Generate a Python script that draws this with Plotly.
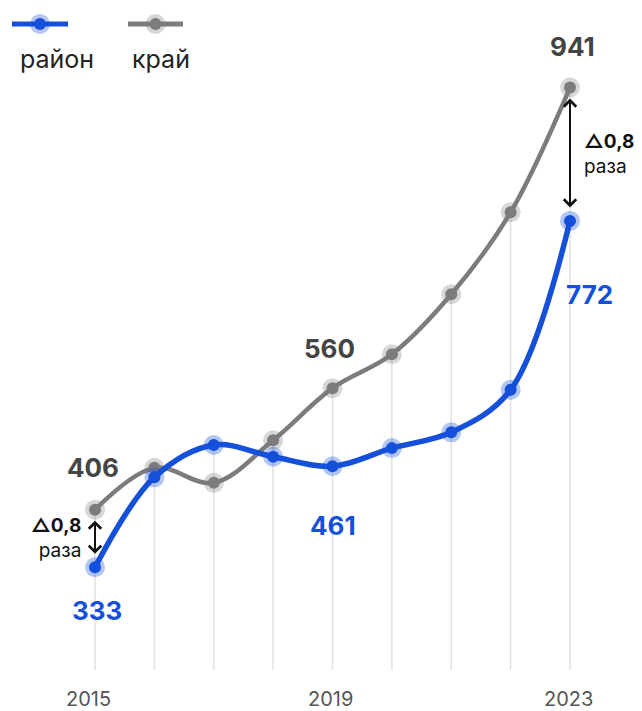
import plotly.graph_objects as go

years = [2015, 2016, 2017, 2018, 2019, 2020, 2021, 2022, 2023]
rayon = [333, 447, 488, 473, 461, 484, 504, 558, 772]
krai = [406, 459, 440, 494, 560, 603, 679, 783, 941]
tick_years = [2015, 2019, 2023]
tick_labels = ["2015", "2019", "2023"]
legend_names = ["район", "край"]
delta_text = "<b>△0,8</b><br>раза"

BLUE = "#1550db"
BLUE_HALO = "rgba(21,80,219,0.32)"
GRAY = "#7c7c7c"
GRAY_HALO = "rgba(124,124,124,0.3)"
FONT = "Inter, Open Sans, sans-serif"

# page offset compensation (page body margin)
OX, OY = 8, 6
W, H = 642 - OX, 711 - OY
MB = H - (668 - OY)
PX_PER_YEAR = 59.375
PX_PER_UNIT = 0.789
X_MIN = 2015 - (95 - OX) / PX_PER_YEAR
X_MAX = X_MIN + W / PX_PER_YEAR
Y_MIN = (828 - 668) / PX_PER_UNIT
Y_MAX = (828 - OY) / PX_PER_UNIT

fig = go.Figure()

for vals, col, halo, w in [(krai, GRAY, GRAY_HALO, 4.5), (rayon, BLUE, BLUE_HALO, 5.5)]:
    fig.add_trace(go.Scatter(x=years, y=vals, mode="lines",
                             line=dict(color=col, width=w, shape="spline", smoothing=1.0),
                             hoverinfo="skip"))
    fig.add_trace(go.Scatter(x=years, y=vals, mode="markers",
                             marker=dict(size=20, color=halo), hoverinfo="skip"))
    fig.add_trace(go.Scatter(x=years, y=vals, mode="markers",
                             marker=dict(size=12, color=col)))

shapes = []
for x, a, b in zip(years, rayon, krai):
    shapes.append(dict(type="line", xref="x", yref="y", x0=x, x1=x, y0=Y_MIN, y1=max(a, b),
                       line=dict(color="#e2e2e2", width=1.5), layer="below"))

# custom legend (positions given in window pixels)
def px(xp):
    return (xp - OX) / W
def py(yp):
    return (H - MB - (yp - OY)) / (H - MB)

annotations = []
for name, col, halo, x0, x1, tx in [(legend_names[0], BLUE, BLUE_HALO, 12, 68, 57),
                                     (legend_names[1], GRAY, GRAY_HALO, 128, 183, 161)]:
    cx = (x0 + x1) / 2
    shapes.append(dict(type="line", xref="paper", yref="paper", x0=px(x0), x1=px(x1),
                       y0=py(22), y1=py(22), line=dict(color=col, width=5)))
    shapes.append(dict(type="circle", xref="paper", yref="paper", xsizemode="pixel", ysizemode="pixel",
                       xanchor=px(cx), yanchor=py(22), x0=-10, x1=10, y0=-10, y1=10,
                       fillcolor=halo, line=dict(width=0)))
    shapes.append(dict(type="circle", xref="paper", yref="paper", xsizemode="pixel", ysizemode="pixel",
                       xanchor=px(cx), yanchor=py(22), x0=-6, x1=6, y0=-6, y1=6,
                       fillcolor=col, line=dict(width=0)))
    annotations.append(dict(xref="paper", yref="paper", x=px(tx), y=py(57), text=name,
                            showarrow=False, font=dict(family=FONT, size=25, color="#222"),
                            xanchor="center", yanchor="middle"))

# x tick labels as annotations
for yr, lab, xs in zip(tick_years, tick_labels, [-7, -2, -2]):
    annotations.append(dict(xref="x", yref="paper", x=yr, y=0, text=lab, showarrow=False,
                            xshift=xs, yshift=-29, xanchor="center", yanchor="middle",
                            font=dict(family=FONT, size=20, color="#555")))

# value labels
i0, i4, i8 = 0, 4, 8
value_labels = [
    (years[i8], krai[i8], "#444", 2, 41),
    (years[i8], rayon[i8], BLUE, 19, -74),
    (years[i4], krai[i4], "#444", -3, 40),
    (years[i4], rayon[i4], BLUE, 0, -59),
    (years[i0], krai[i0], "#444", -2, 42),
    (years[i0], rayon[i0], BLUE, 2, -43),
]
for x, v, col, xs, ys in value_labels:
    annotations.append(dict(xref="x", yref="y", x=x, y=v, text=f"<b>{v}</b>", showarrow=False,
                            xshift=xs, yshift=ys, font=dict(family=FONT, size=26, color=col),
                            xanchor="center", yanchor="middle"))

# delta arrows and texts
for idx, xanchor, xs in [(i0, "right", -12), (i8, "left", 12)]:
    x = years[idx]
    annotations.append(dict(xref="x", yref="y", axref="x", ayref="y", x=x, y=krai[idx], ax=x, ay=rayon[idx],
                            text="", showarrow=True, arrowside="end+start", arrowhead=4, startarrowhead=4,
                            arrowsize=1.2, startarrowsize=1.2, arrowwidth=2, arrowcolor="#111",
                            standoff=11, startstandoff=12))
    annotations.append(dict(xref="x", yref="y", x=x, y=(krai[idx] + rayon[idx]) / 2, text=delta_text,
                            showarrow=False, xanchor=xanchor, yanchor="middle", xshift=xs,
                            align=xanchor, font=dict(family=FONT, size=19, color="#111")))

fig.update_layout(
    width=W, height=H, margin=dict(l=0, r=0, t=0, b=MB),
    paper_bgcolor="white", plot_bgcolor="white", showlegend=False,
    shapes=shapes, annotations=annotations,
    xaxis=dict(range=[X_MIN, X_MAX], showgrid=False, showticklabels=False,
               zeroline=False, showline=False, ticks="", fixedrange=True),
    yaxis=dict(range=[Y_MIN, Y_MAX], visible=False, fixedrange=True),
)

fig.write_html("out.html")
